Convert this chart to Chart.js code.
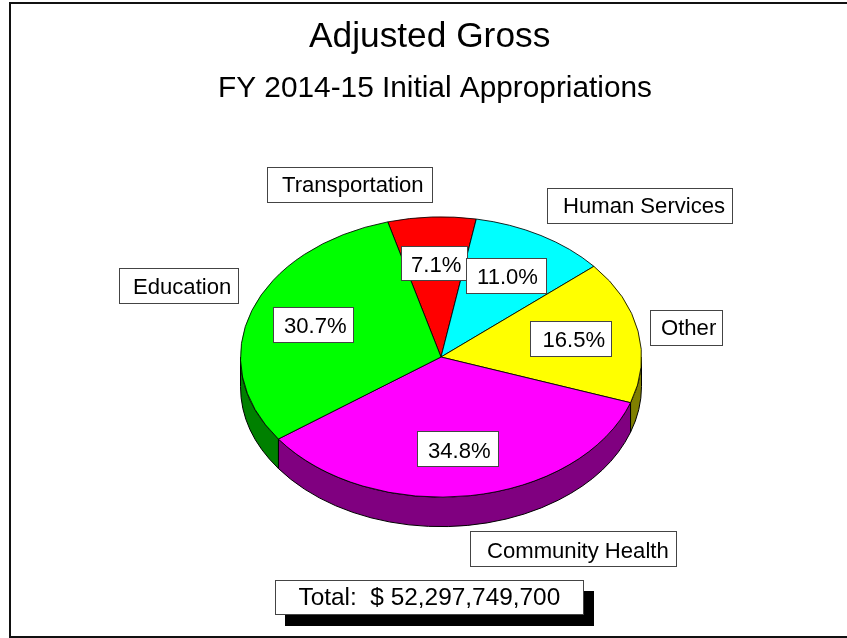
<!DOCTYPE html>
<html>
<head>
<meta charset="utf-8">
<style>html,body{margin:0;padding:0;background:#fff}canvas{display:block}</style>
<script src="https://cdn.jsdelivr.net/npm/chart.js@4"></script>
</head>
<body>
<canvas id="c" width="847" height="638"></canvas>
<script>
const chartTitle = "Adjusted Gross";
const chartSubtitle = "FY 2014-15 Initial Appropriations";
const totalLabel = "Total:  $ 52,297,749,700";
const categories = ["Transportation", "Human Services", "Other", "Community Health", "Education"];
const shares = [7.1, 11.0, 16.5, 34.8, 30.7];
const sliceColors = ["#ff0000", "#00ffff", "#ffff00", "#ff00ff", "#00ff00"];
const wallColors = ["#800000", "#008080", "#808000", "#800080", "#008000"];

// label box layout: [left, top, right, bottom, textX, baselineY]
const nameBoxes = [
  [267.5, 167.5, 432.5, 202.5, 282, 192],
  [547.5, 188.5, 732.5, 223.5, 563, 213],
  [650.5, 310.5, 722.5, 345.5, 661, 335],
  [470.5, 531.5, 676.5, 566.5, 487, 558],
  [119.5, 268.5, 238.5, 303.5, 133, 294]
];
const shareBoxes = [
  [401.5, 246.5, 467.5, 280.5, 411, 272],
  [466.5, 258.5, 546.5, 293.5, 477, 284],
  [530.5, 321.5, 611.5, 356.5, 542.5, 347],
  [417.5, 431.5, 498.5, 466.5, 428, 458],
  [273.5, 307.5, 353.5, 342.5, 284, 333]
];
const totalBox = [275.5, 580.5, 583.5, 614.5, 298.5, 605];
const shadowBox = [285, 591, 594, 626];

const FONT = '"Liberation Sans", Arial, sans-serif';
const squash = 0.699;
const depth = 29.5;

const pie3d = {
  id: "pie3d",
  beforeDatasetsDraw(chart) {
    const ctx = chart.ctx;
    const arcs = chart.getDatasetMeta(0).data;
    const cx = arcs[0].x, cy = arcs[0].y, r = arcs[0].outerRadius;
    ctx.save();
    ctx.lineWidth = 1;
    ctx.strokeStyle = "#000";
    arcs.forEach((arc, i) => {
      const a0 = Math.max(arc.startAngle, 0), a1 = Math.min(arc.endAngle, Math.PI);
      if (a1 <= a0) return;
      ctx.beginPath();
      ctx.ellipse(cx, cy, r, r * squash, 0, a0, a1, false);
      ctx.lineTo(cx + r * Math.cos(a1), cy + r * squash * Math.sin(a1) + depth);
      ctx.ellipse(cx, cy + depth, r, r * squash, 0, a1, a0, true);
      ctx.closePath();
      ctx.fillStyle = wallColors[i];
      ctx.fill();
      ctx.stroke();
    });
    ctx.restore();
    ctx.save();
    ctx.translate(cx, cy);
    ctx.scale(1, squash);
    ctx.translate(-cx, -cy);
  },
  afterDatasetsDraw(chart) {
    chart.ctx.restore();
    const ctx = chart.ctx;
    const label = (b, text, size) => {
      ctx.fillStyle = "#fff";
      ctx.fillRect(b[0], b[1], b[2] - b[0], b[3] - b[1]);
      ctx.strokeStyle = "#444";
      ctx.lineWidth = 1;
      ctx.strokeRect(b[0], b[1], b[2] - b[0], b[3] - b[1]);
      ctx.fillStyle = "#000";
      ctx.font = size + "px " + FONT;
      ctx.fillText(text, b[4], b[5]);
    };
    ctx.save();
    ctx.textAlign = "left";
    ctx.textBaseline = "alphabetic";
    // frame: left, top and bottom rules
    ctx.fillStyle = "#111";
    ctx.fillRect(9, 2, 838, 2);
    ctx.fillRect(9, 2, 2, 636);
    ctx.fillRect(9, 636, 838, 2);
    // titles
    ctx.fillStyle = "#000";
    ctx.font = "35.3px " + FONT;
    ctx.fillText(chartTitle, 309, 47);
    ctx.font = "29.8px " + FONT;
    ctx.fillText(chartSubtitle, 218, 97);
    // labels
    categories.forEach((name, i) => label(nameBoxes[i], name, 22.1));
    shares.forEach((v, i) => label(shareBoxes[i], v.toFixed(1) + "%", 22.1));
    // total with shadow
    ctx.fillStyle = "#000";
    ctx.fillRect(shadowBox[0], shadowBox[1], shadowBox[2] - shadowBox[0], shadowBox[3] - shadowBox[1]);
    label(totalBox, totalLabel, 24.4);
    ctx.restore();
  }
};

new Chart(document.getElementById("c"), {
  type: "pie",
  data: {
    labels: categories,
    datasets: [{
      data: shares,
      backgroundColor: sliceColors,
      borderColor: "#000",
      borderWidth: 1,
      clip: false
    }]
  },
  options: {
    responsive: false,
    animation: false,
    rotation: -15.4,
    layout: { padding: { left: 240, right: 205, top: 156, bottom: 80 } },
    plugins: { legend: { display: false }, tooltip: { enabled: false } }
  },
  plugins: [pie3d]
});
</script>
</body>
</html>
